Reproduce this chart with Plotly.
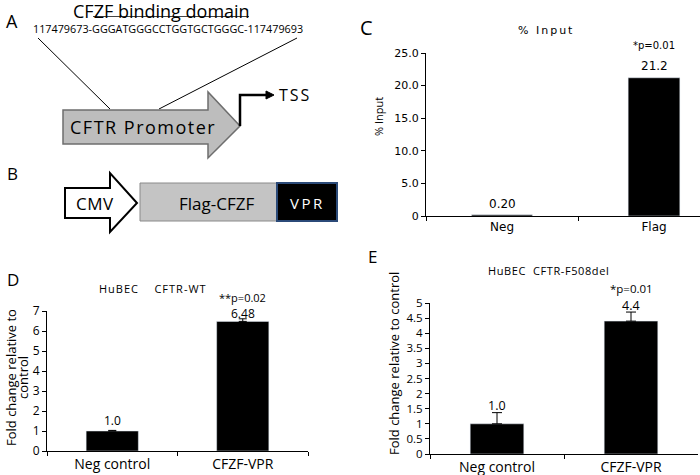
import plotly.graph_objects as go

W, H = 700, 475

# ---------------- data ----------------
c_categories = ["Neg", "Flag"]
c_values = [0.20, 21.2]
c_labels = ["0.20", "21.2"]
c_pvalue = "*p=0.01"

d_categories = ["Neg control", "CFZF-VPR"]
d_values = [1.0, 6.48]
d_errors = [0.03, 0.13]
d_labels = ["1.0", "6.48"]
d_pvalue = "**p=0.02"

e_categories = ["Neg control", "CFZF-VPR"]
e_values = [1.0, 4.4]
e_errors = [0.37, 0.3]
e_labels = ["1.0", "4.4"]
e_pvalue = "*p=0.01"

c_yticks = [0, 5, 10, 15, 20, 25]
c_yticktext = ["0", "5.0", "10.0", "15.0", "20.0", "25.0"]
d_yticks = [0, 1, 2, 3, 4, 5, 6, 7]
e_yticks = [0, 0.5, 1, 1.5, 2, 2.5, 3, 3.5, 4, 4.5, 5]
e_yticktext = ["0", "0.5", "1", "1.5", "2", "2.5", "3", "3.5", "4", "4.5", "5"]

sequence = "117479673-GGGATGGGCCTGGTGCTGGGC-117479693"


def px(x):
    return x / W


def py(y):
    return 1 - y / H


FONT = "Open Sans"

fig = go.Figure()

fig.add_trace(go.Bar(x=c_categories, y=c_values, marker_color="black",
                     width=[0.4, 0.34], xaxis="x", yaxis="y", showlegend=False))
fig.add_trace(go.Bar(x=d_categories, y=d_values, marker_color="black", width=0.4,
                     error_y=dict(type="data", array=d_errors, arrayminus=[0, 0],
                                  symmetric=False, color="black", thickness=1, width=4),
                     xaxis="x2", yaxis="y2", showlegend=False))
fig.add_trace(go.Bar(x=e_categories, y=e_values, marker_color="black", width=0.4,
                     error_y=dict(type="data", array=e_errors, arrayminus=[0, 0],
                                  symmetric=False, color="black", thickness=1, width=5),
                     xaxis="x3", yaxis="y3", showlegend=False))

axis_common = dict(showline=True, linecolor="black", linewidth=1, showgrid=False,
                   zeroline=False, ticks="outside", ticklen=4, tickcolor="black",
                   fixedrange=True, automargin=False)

annotations = []
shapes = []

c_range_right = -0.5 + (W - 426) / 152.0
fig.update_layout(
    xaxis=dict(domain=[px(426), 1.0], range=[-0.5, c_range_right], type="category",
               tickson="boundaries", anchor="y",
               tickfont=dict(family="DejaVu Sans", size=12, color="black"), **axis_common),
    yaxis=dict(domain=[py(216), py(53)], range=[0, 25], tickvals=c_yticks,
               ticktext=c_yticktext, anchor="x",
               tickfont=dict(family="DejaVu Sans", size=11, color="black"), **axis_common),
    xaxis2=dict(domain=[px(47), px(308)], range=[-0.5, 1.5], type="category",
                tickson="boundaries", anchor="y2",
                tickfont=dict(family=FONT, size=14, color="black"), **axis_common),
    yaxis2=dict(domain=[py(451), py(311)], range=[0, 7], tickvals=d_yticks, anchor="x2",
                tickfont=dict(family=FONT, size=12, color="black"), **axis_common),
    xaxis3=dict(domain=[px(430), px(698)], range=[-0.5, 1.5], type="category",
                tickson="boundaries", anchor="y3",
                tickfont=dict(family=FONT, size=14, color="black"), **axis_common),
    yaxis3=dict(domain=[py(454), py(303)], range=[0, 5], tickvals=e_yticks,
                ticktext=e_yticktext, anchor="x3",
                tickfont=dict(family=FONT, size=11.5, color="black"), **axis_common),
)


def val_label(cat, y, text, xref, yref, shift, size, family=FONT):
    annotations.append(dict(x=cat, y=y, xref=xref, yref=yref, text=text, showarrow=False,
                            yanchor="middle", yshift=shift,
                            font=dict(family=family, size=size, color="black")))


c_shifts = [11, 12]
for cat, v, lab, s in zip(c_categories, c_values, c_labels, c_shifts):
    val_label(cat, v, lab, "x", "y", s, 12, "DejaVu Sans")
val_label(c_categories[1], c_values[1], c_pvalue, "x", "y", 32, 10, "DejaVu Sans")

d_shifts = [10, 5]
for cat, v, e, lab, s in zip(d_categories, d_values, d_errors, d_labels, d_shifts):
    val_label(cat, v + e, lab, "x2", "y2", s, 12)
val_label(d_categories[1], d_values[1] + d_errors[1], d_pvalue, "x2", "y2", 21, 11)

e_shifts = [7.5, 6.5]
for cat, v, e, lab, s in zip(e_categories, e_values, e_errors, e_labels, e_shifts):
    val_label(cat, v + e, lab, "x3", "y3", s, 12.5)
val_label(e_categories[1], e_values[1] + e_errors[1], e_pvalue, "x3", "y3", 24, 11.5)


def txt(x, y, s, size, family=FONT, color="black", angle=0, xanchor="center", ls=None):
    if ls is not None:
        s = f'<span style="letter-spacing:{ls}px">{s}</span>'
    annotations.append(dict(x=px(x), y=py(y), xref="paper", yref="paper", text=s,
                            showarrow=False, xanchor=xanchor, yanchor="middle",
                            textangle=angle,
                            font=dict(family=family, size=size, color=color)))


# titles & axis titles
txt(546, 31, "% Input", 11, family="DejaVu Sans", ls=2)
txt(378, 117, "% Input", 11, angle=-90)
txt(153, 288, "HuBEC    CFTR-WT", 11, ls=1)
txt(11, 378, "Fold change relative to", 13, angle=-90)
txt(23, 378, "control", 13, angle=-90)
txt(548, 270, "HuBEC  CFTR-F508del", 11, ls=0.6)
txt(394, 364, "Fold change relative to control", 13, angle=-90)

# panel letters
txt(12, 21, "A", 18)
txt(12, 174, "B", 17)
txt(367, 27, "C", 20)
txt(13, 279, "D", 17)
txt(372, 256, "E", 17)

# ---------- panel A diagram ----------
txt(161, 11, "CFZF binding domain", 18)
shapes.append(dict(type="line", xref="paper", yref="paper", x0=px(93), x1=px(249),
                   y0=py(16.5), y1=py(16.5), line=dict(color="#444", width=1)))
txt(168, 29, sequence, 10.8)
shapes.append(dict(type="line", xref="paper", yref="paper", x0=px(38), y0=py(38),
                   x1=px(110), y1=py(109), line=dict(color="black", width=1)))
shapes.append(dict(type="line", xref="paper", yref="paper", x0=px(297), y0=py(38),
                   x1=px(159), y1=py(109), line=dict(color="black", width=1)))


def poly(points, fill, line, lw=1.5):
    path = "M " + " L ".join(f"{px(a):.5f},{py(b):.5f}" for a, b in points) + " Z"
    shapes.append(dict(type="path", xref="paper", yref="paper", path=path,
                       fillcolor=fill, line=dict(color=line, width=lw)))


poly([(63, 110), (208, 110), (208, 92), (240, 126), (208, 158), (208, 144), (63, 144)],
     "#bdbdbd", "#6e6e6e", 1.5)
txt(143, 127, "CFTR Promoter", 18, ls=1.5)
shapes.append(dict(type="path", xref="paper", yref="paper",
                   path=f"M {px(240)},{py(126)} L {px(240)},{py(95)} L {px(268)},{py(95)}",
                   line=dict(color="black", width=2.5)))
poly([(266, 91), (274, 95), (266, 99)], "black", "black", 1)
txt(277, 95, "TSS", 16, xanchor="left", ls=2)

# ---------- panel B diagram ----------
poly([(65, 188), (110, 188), (110, 173), (137, 203), (110, 232), (110, 218), (65, 218)],
     "white", "black", 2)
txt(95, 203, "CMV", 17, ls=0.5)
shapes.append(dict(type="rect", xref="paper", yref="paper", x0=px(140), x1=px(277),
                   y0=py(221), y1=py(183), fillcolor="#c4c4c4",
                   line=dict(color="#8a8a8a", width=1)))
txt(216, 203, "Flag-CFZF", 17)
shapes.append(dict(type="rect", xref="paper", yref="paper", x0=px(277), x1=px(337),
                   y0=py(221), y1=py(183), fillcolor="black",
                   line=dict(color="#2b4a78", width=2)))
txt(307, 203, "VPR", 15, color="white", ls=2.5)

fig.update_layout(
    width=W, height=H,
    margin=dict(l=0, r=0, t=0, b=0, pad=0, autoexpand=False),
    paper_bgcolor="white", plot_bgcolor="white",
    annotations=annotations, shapes=shapes,
    showlegend=False,
)

# remove the default page margin so the 700x475 figure fills the window exactly
fig.write_html("out.html",
               config={"displayModeBar": False, "staticPlot": True},
               post_script="document.body.style.margin='0px';"
                           "document.body.style.overflow='hidden';")
